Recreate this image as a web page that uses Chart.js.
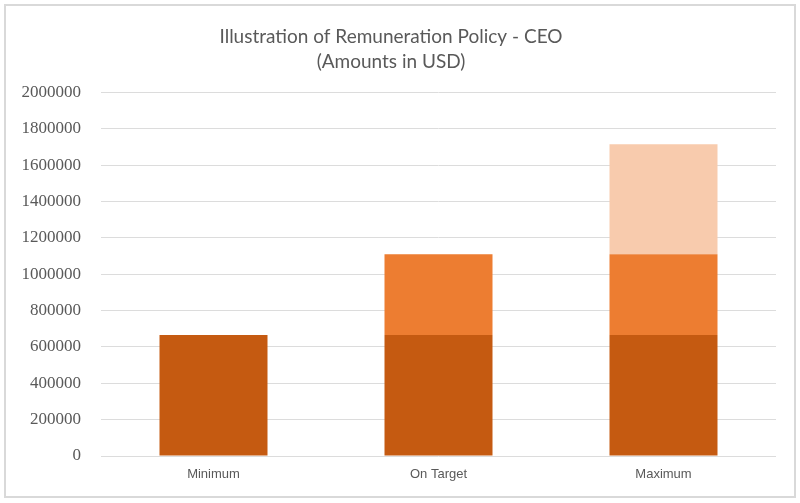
<!DOCTYPE html>
<html>
<head>
<meta charset="utf-8">
<script src="https://cdn.jsdelivr.net/npm/chart.js@4/dist/chart.umd.min.js"></script>
<style>
    html, body { margin: 0; padding: 0; background: #ffffff; }
    #wrap {
        position: absolute;
        left: 4px; top: 4px;
        width: 788px; height: 490px;
        border: 2px solid #d9d9d9;
        background: #ffffff;
    }
</style>
</head>
<body>
<div id="wrap"><canvas id="remChart" width="788" height="490"></canvas></div>
<script>
// categorias y valores del grafico
const categories = ["Minimum", "On Target", "Maximum"];
const fixedPay = [665000, 665000, 665000];
const targetVariable = [0, 445000, 445000];
const maxVariable = [0, 0, 605000];
const yTicks = [0, 200000, 400000, 600000, 800000, 1000000, 1200000, 1400000, 1600000, 1800000, 2000000];

document.addEventListener("DOMContentLoaded", function () {
    var ctx = document.getElementById("remChart").getContext("2d");
    new Chart(ctx, {
        type: "bar",
        data: {
            labels: categories,
            datasets: [
                { label: "Fixed", data: fixedPay, backgroundColor: "#c55a11" },
                { label: "Target", data: targetVariable, backgroundColor: "#ed7d31" },
                { label: "Maximum", data: maxVariable, backgroundColor: "#f8cbad" },
            ],
        },
        options: {
            responsive: false,
            animation: false,
            layout: { padding: { top: 7, right: 18, bottom: 0, left: 0 } },
            datasets: {
                bar: { categoryPercentage: 1, barPercentage: 0.48, borderWidth: 0 },
            },
            plugins: {
                legend: { display: false }, // sin leyenda
                tooltip: { enabled: false },
                title: {
                    display: true,
                    text: ["Illustration of Remuneration Policy - CEO", "(Amounts in USD)"],
                    color: "#595959",
                    font: { family: "Lato", size: 19, weight: "normal", lineHeight: 1.3 },
                    padding: { top: 12, bottom: 18 },
                },
            },
            scales: {
                x: {
                    stacked: true,
                    grid: { display: false, drawTicks: false },
                    border: { display: false },
                    ticks: {
                        color: "#595959",
                        font: { family: "Liberation Sans", size: 13 },
                        padding: 11,
                    },
                    afterFit: function (scale) { scale.height = 40; },
                },
                y: {
                    stacked: true,
                    min: 0,
                    max: 2000000,
                    afterBuildTicks: function (scale) {
                        scale.ticks = yTicks.map(function (v) { return { value: v }; });
                    },
                    grid: { color: "#dcdcdc", lineWidth: 1, drawTicks: false },
                    border: { display: false },
                    ticks: {
                        color: "#595959",
                        font: { family: "Liberation Serif", size: 17 },
                        padding: 20,
                        callback: function (v) { return String(v); },
                    },
                    afterFit: function (scale) { scale.width = 95; },
                },
            },
        },
    });
});
</script>
</body>
</html>
